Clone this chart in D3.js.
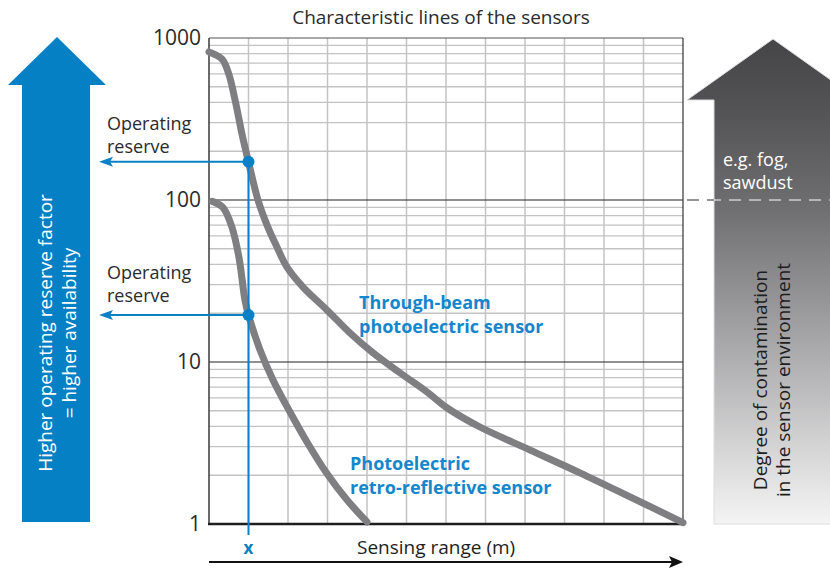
<!DOCTYPE html>
<html>
<head>
<meta charset="utf-8">
<script src="https://cdn.jsdelivr.net/npm/d3@7"></script>
<style>
  body { margin: 0; background: white; }
  svg text { font-family: "Open Sans", "Liberation Sans", Arial, sans-serif; }
</style>
</head>
<body>
<svg id="chart"></svg>
<script>
// characteristic lines of the sensors
var W = 830;
var H = 569;
margin = {top: 38, right: 147, bottom: 45, left: 209};

// x in grid columns (0..12), y = operating reserve factor (log)
var throughBeamX = [0, 0.33, 0.5, 0.66, 0.84, 1.0, 1.24, 1.49, 1.72, 1.97, 2.38, 2.99, 3.57, 4.15, 4.84, 5.52, 6.03, 6.86, 8.13, 9.39, 10.66, 12.0];
var throughBeamY = [820, 740, 600, 414, 252, 172, 100, 68, 51.3, 38.6, 29, 20.9, 15.1, 11.4, 8.55, 6.53, 5.2, 3.97, 2.86, 2.07, 1.47, 1.02];

var retroX = [0.08, 0.35, 0.58, 0.76, 0.91, 1.0, 1.29, 1.62, 2.05, 2.48, 2.99, 3.49, 4.0];
var retroY = [98, 90, 68, 44, 24.1, 19.5, 11.9, 7.75, 4.91, 3.21, 2.04, 1.41, 1.03];

var yTicks = [1, 10, 100, 1000];
var columns = d3.range(0, 13);
var xMark = 1;                       // the "x" sensing range
var reserveDots = [172, 19.5];       // values where the x line hits the curves

var svg = d3.select("#chart")
  .attr("width", W)
  .attr("height", H);

svg.append("rect")
  .attr("width", "100%")
  .attr("height", "100%")
  .attr("fill", "white");

x = d3.scaleLinear()
  .domain([0, 12])
  .range([margin.left, W - margin.right]);

y = d3.scaleLog()
  .domain([1, 1000])
  .range([H - margin.bottom, margin.top]);

var blue = "#0a80c6";
var dark = "#2b2b2b";

// two line text as one element
function twoLines(g, px, py, lines, gap, size, fill, weight) {
  var t = g.append("text")
    .attr("fill", fill)
    .style("font-size", size)
    .style("font-weight", weight || "normal");
  t.append("tspan").attr("x", px).attr("y", py).text(lines[0]);
  t.append("tspan").attr("x", px).attr("dy", gap).text(lines[1]);
  return t;
}

// ---- left blue arrow
var lp = d3.path();
lp.moveTo(22, 522); lp.lineTo(22, 85); lp.lineTo(8, 85); lp.lineTo(57, 37);
lp.lineTo(106, 85); lp.lineTo(90, 85); lp.lineTo(90, 522); lp.closePath();
svg.append("path").attr("d", lp.toString()).attr("fill", "#0580c5");

var lt = svg.append("text")
  .attr("transform", "translate(57,333) rotate(-90)")
  .attr("text-anchor", "middle")
  .attr("fill", "white")
  .style("font-size", "19px");
lt.append("tspan").attr("x", 0).attr("y", -5).text("Higher operating reserve factor");
lt.append("tspan").attr("x", 0).attr("y", 19).text("= higher availability");

// ---- right grey arrow with gradient
var grad = svg.append("defs").append("linearGradient")
  .attr("id", "greyfade")
  .attr("x1", 0).attr("y1", 0).attr("x2", 0).attr("y2", 1);
grad.append("stop").attr("offset", "0%").attr("stop-color", "#454547");
grad.append("stop").attr("offset", "15%").attr("stop-color", "#545456");
grad.append("stop").attr("offset", "35%").attr("stop-color", "#6f6f71");
grad.append("stop").attr("offset", "60%").attr("stop-color", "#a2a2a4");
grad.append("stop").attr("offset", "85%").attr("stop-color", "#d6d6d7");
grad.append("stop").attr("offset", "100%").attr("stop-color", "#f4f4f4");

var rp = d3.path();
rp.moveTo(714, 524); rp.lineTo(714, 100); rp.lineTo(687, 100); rp.lineTo(773, 39);
rp.lineTo(859, 100); rp.lineTo(832, 100); rp.lineTo(832, 524); rp.closePath();
svg.append("path").attr("d", rp.toString())
  .attr("fill", "url(#greyfade)")
  .attr("stroke", "#dcdcdc")
  .attr("stroke-width", 1);

twoLines(svg, 723, 166, ["e.g. fog,", "sawdust"], 23, "18px", "white");

var rt = svg.append("text")
  .attr("transform", "translate(772,380) rotate(-90)")
  .attr("text-anchor", "middle")
  .attr("fill", "#1e1e1e")
  .style("font-size", "19px");
rt.append("tspan").attr("x", 0).attr("y", -5).text("Degree of contamination");
rt.append("tspan").attr("x", 0).attr("y", 18).text("in the sensor environment");

// dashed 100 line out to the right
svg.append("line")
  .attr("x1", x(12)).attr("x2", 714)
  .attr("y1", y(100)).attr("y2", y(100))
  .attr("stroke", dark).attr("stroke-width", 1)
  .attr("stroke-dasharray", "12,8").attr("stroke-dashoffset", -4);
svg.append("line")
  .attr("x1", 714).attr("x2", W)
  .attr("y1", y(100)).attr("y2", y(100))
  .attr("stroke", "white").attr("stroke-width", 1)
  .attr("stroke-dasharray", "12,8").attr("stroke-dashoffset", -15);

// ---- grid
var minor = [];
[1, 10, 100].forEach(d => { for (var k = 2; k <= 9; k++) minor.push(d * k); });

svg.append("g").selectAll("line")
  .data(minor)
  .enter().append("line")
  .attr("x1", x(0)).attr("x2", x(12))
  .attr("y1", d => y(d)).attr("y2", d => y(d))
  .attr("stroke", "#c3c3c3").attr("stroke-width", 1.3);

svg.append("g").selectAll("line")
  .data(columns.slice(1, 12))
  .enter().append("line")
  .attr("x1", d => x(d)).attr("x2", d => x(d))
  .attr("y1", y(1000)).attr("y2", y(1))
  .attr("stroke", "#c3c3c3").attr("stroke-width", 1.5);

svg.append("g").selectAll("line")
  .data([10, 100, 1000])
  .enter().append("line")
  .attr("x1", x(0)).attr("x2", x(12))
  .attr("y1", d => y(d)).attr("y2", d => y(d))
  .attr("stroke", d => d == 1000 ? "#555" : "#222").attr("stroke-width", 1);

// right border
svg.append("line")
  .attr("x1", x(12)).attr("x2", x(12))
  .attr("y1", y(1000)).attr("y2", y(1))
  .attr("stroke", "#333").attr("stroke-width", 1.2);

// left and bottom axis lines
svg.append("line")
  .attr("x1", x(0)).attr("x2", x(0))
  .attr("y1", y(1000)).attr("y2", y(1))
  .attr("stroke", "#3a3a3a").attr("stroke-width", 1.5);
svg.append("line")
  .attr("x1", x(0) - 1).attr("x2", x(12) + 1)
  .attr("y1", y(1)).attr("y2", y(1))
  .attr("stroke", "#1e1e1e").attr("stroke-width", 2.5);

yAxis = g => g
  .attr("transform", `translate(${margin.left},0)`)
  .call(d3.axisLeft(y).tickValues(yTicks).tickFormat(d3.format("d")).tickSize(0).tickPadding(8))
  .call(g => g.select(".domain").remove())
  .call(g => g.selectAll("text")
    .style("font-size", "21px")
    .style("font-family", "'Open Sans', 'Liberation Sans', Arial, sans-serif")
    .attr("fill", "#2b2b2b"));

svg.append("g").call(yAxis);

// ---- curves
line = d3.line()
  .curve(d3.curveCatmullRom.alpha(0.5))
  .x(d => x(d[0]))
  .y(d => y(d[1]));

svg.append("path")
  .datum(d3.zip(throughBeamX, throughBeamY))
  .attr("fill", "none")
  .attr("stroke", "#7f7f82")
  .attr("stroke-width", 7)
  .attr("stroke-linejoin", "round")
  .attr("stroke-linecap", "round")
  .attr("d", line);

svg.append("path")
  .datum(d3.zip(retroX, retroY))
  .attr("fill", "none")
  .attr("stroke", "#7f7f82")
  .attr("stroke-width", 7)
  .attr("stroke-linejoin", "round")
  .attr("stroke-linecap", "round")
  .attr("d", line);

// ---- operating reserve markers
svg.append("line")
  .attr("x1", x(xMark)).attr("x2", x(xMark))
  .attr("y1", y(reserveDots[0])).attr("y2", y(1) + 11)
  .attr("stroke", blue).attr("stroke-width", 2);

reserveDots.forEach(v => {
  svg.append("line")
    .attr("x1", x(xMark)).attr("x2", 108)
    .attr("y1", y(v)).attr("y2", y(v))
    .attr("stroke", blue).attr("stroke-width", 2);
  svg.append("path")
    .attr("d", `M99,${y(v)} L113,${y(v) - 5} L110,${y(v)} L113,${y(v) + 5} Z`)
    .attr("fill", blue);
  svg.append("circle")
    .attr("cx", x(xMark)).attr("cy", y(v)).attr("r", 6)
    .attr("fill", blue);
});

[130, 279].forEach(py => {
  twoLines(svg, 107, py, ["Operating", "reserve"], 23, "18px", "#2b2b2b");
});

// ---- series labels
twoLines(svg, 359, 309, ["Through-beam", "photoelectric sensor"], 24, "18px", "#1386cc", "bold");
twoLines(svg, 350, 470, ["Photoelectric", "retro-reflective sensor"], 24, "18px", "#1386cc", "bold");

// ---- title and x axis label
svg.append("text")
  .attr("x", 441)
  .attr("y", 24)
  .attr("text-anchor", "middle")
  .attr("fill", "#2b2b2b")
  .style("font-size", "19px")
  .text("Characteristic lines of the sensors");

svg.append("text").attr("x", x(xMark)).attr("y", 554).attr("text-anchor", "middle")
  .attr("fill", blue).style("font-size", "17px").style("font-weight", "bold").text("x");

svg.append("text").attr("x", 357).attr("y", 554).attr("fill", "#1e1e1e")
  .style("font-size", "19px").text("Sensing range (m)");

svg.append("line")
  .attr("x1", x(0)).attr("x2", x(12) - 8)
  .attr("y1", 562).attr("y2", 562)
  .attr("stroke", "#111").attr("stroke-width", 2);
svg.append("path")
  .attr("d", `M${x(12)},562 L${x(12) - 14},556 L${x(12) - 11},562 L${x(12) - 14},568 Z`)
  .attr("fill", "#111");
</script>
</body>
</html>
